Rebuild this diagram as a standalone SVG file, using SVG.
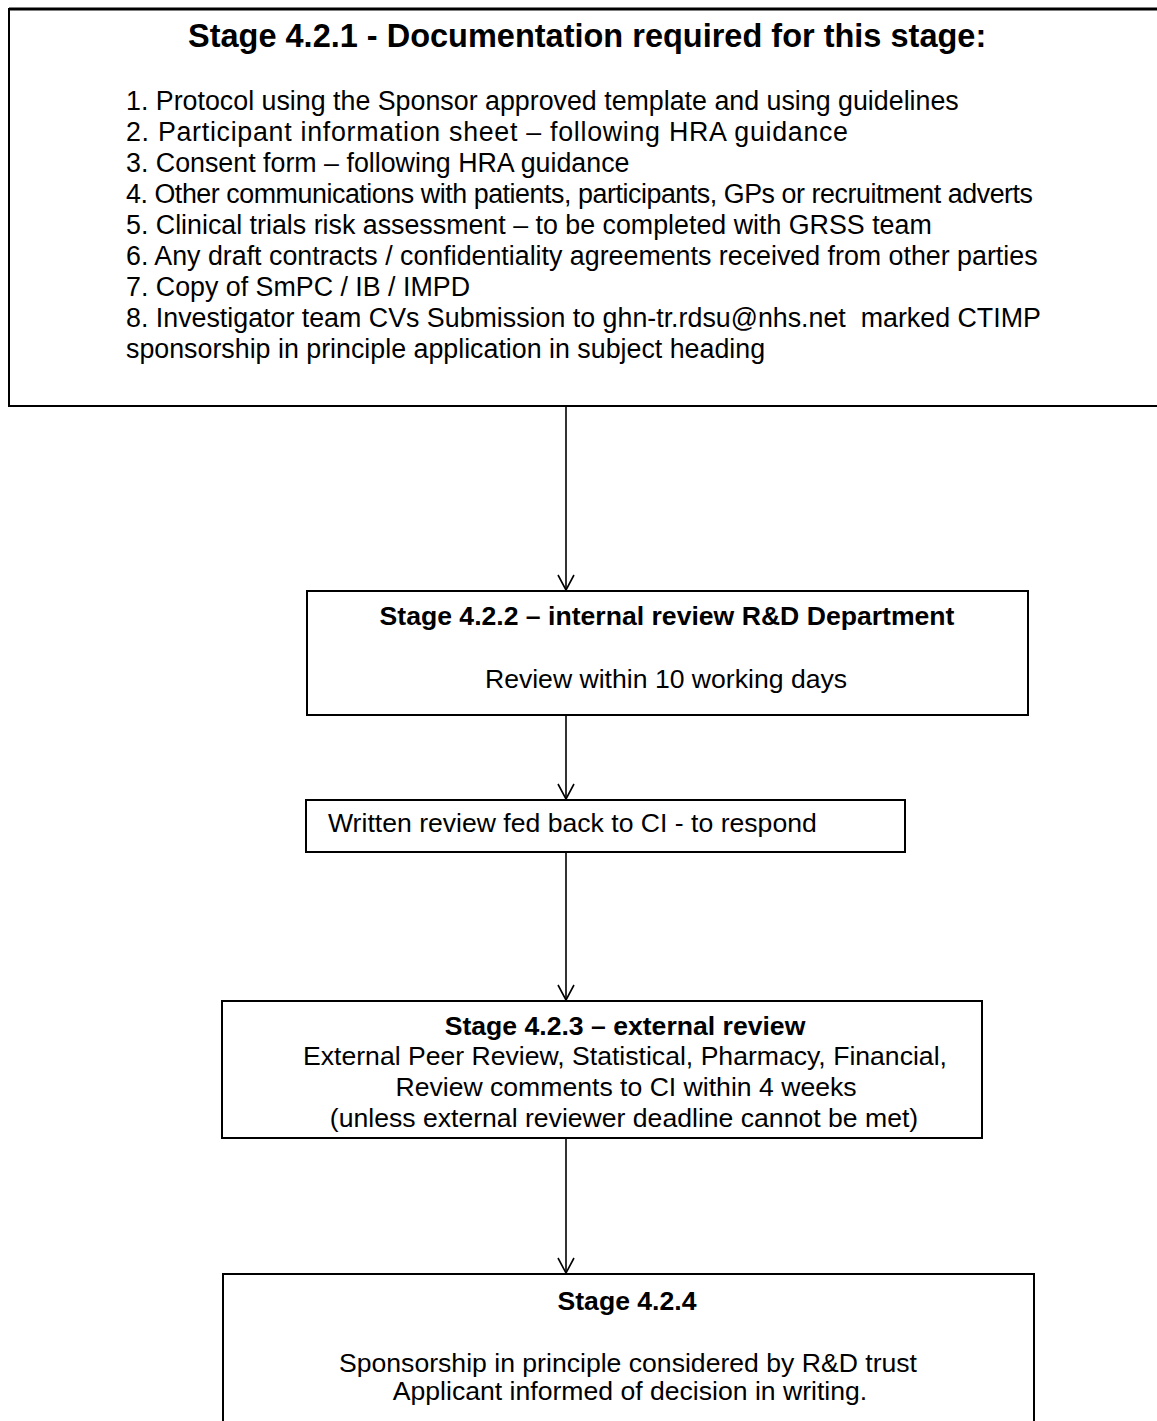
<svg xmlns="http://www.w3.org/2000/svg" width="1157" height="1421" viewBox="0 0 1157 1421">
<defs>
<style>
.box{fill:#fff;stroke:#000;stroke-width:2}
.t{font-family:"Liberation Sans",Arial,sans-serif;font-size:26.6px;fill:#000}
.li{font-size:26.8px}
.h1{font-size:32.5px}
.b{font-weight:bold}
.c{text-anchor:middle}
.conn line,.conn path{stroke:#000;stroke-width:1.6;fill:none}
</style>
</defs>
<rect width="1157" height="1421" fill="#fff"/>
<g id="stage421">
<path class="box" d="M1160,9 H9 V406 H1160"/>
<line x1="9" y1="9" x2="1160" y2="9" stroke="#000" stroke-width="3"/>
<text class="t b h1" x="188" y="47">Stage 4.2.1 - Documentation required for this stage:</text>
<text class="t li" x="126" y="110">1. Protocol using the Sponsor approved template and using guidelines</text>
<text class="t li" x="126" y="141" textLength="722" lengthAdjust="spacing">2. Participant information sheet – following HRA guidance</text>
<text class="t li" x="126" y="172">3. Consent form – following HRA guidance</text>
<text class="t li" x="126" y="203" textLength="907" lengthAdjust="spacing">4. Other communications with patients, participants, GPs or recruitment adverts</text>
<text class="t li" x="126" y="234">5. Clinical trials risk assessment – to be completed with GRSS team</text>
<text class="t li" x="126" y="265">6. Any draft contracts / confidentiality agreements received from other parties</text>
<text class="t li" x="126" y="296">7. Copy of SmPC / IB / IMPD</text>
<text class="t li" x="126" y="327" xml:space="preserve">8. Investigator team CVs Submission to ghn-tr.rdsu@nhs.net  marked CTIMP</text>
<text class="t li" x="126" y="358">sponsorship in principle application in subject heading</text>
</g>
<g id="stage422">
<rect class="box" x="307" y="591" width="721" height="124"/>
<text class="t b c" x="667" y="625">Stage 4.2.2 – internal review R&amp;D Department</text>
<text class="t c" x="666" y="688">Review within 10 working days</text>
</g>
<g id="written">
<rect class="box" x="306" y="800" width="599" height="52"/>
<text class="t" x="328" y="832">Written review fed back to CI - to respond</text>
</g>
<g id="stage423">
<rect class="box" x="222" y="1001" width="760" height="137"/>
<text class="t b c" x="625" y="1035">Stage 4.2.3 – external review</text>
<text class="t c" x="625" y="1065">External Peer Review, Statistical, Pharmacy, Financial,</text>
<text class="t c" x="626" y="1096">Review comments to CI within 4 weeks</text>
<text class="t c" x="624" y="1127">(unless external reviewer deadline cannot be met)</text>
</g>
<g id="stage424">
<path class="box" d="M223,1425 V1274 H1034 V1425"/>
<text class="t b c" x="627" y="1310">Stage 4.2.4</text>
<text class="t c" x="628" y="1372">Sponsorship in principle considered by R&amp;D trust</text>
<text class="t c" x="630" y="1400">Applicant informed of decision in writing.</text>
</g>
<g id="connectors" class="conn">
<line x1="566" y1="407" x2="566" y2="590"/>
<path d="M558,575 L566,590 L574,575"/>
<line x1="566" y1="716" x2="566" y2="799"/>
<path d="M558,784 L566,799 L574,784"/>
<line x1="566" y1="853" x2="566" y2="1000"/>
<path d="M558,985 L566,1000 L574,985"/>
<line x1="566" y1="1139" x2="566" y2="1273"/>
<path d="M558,1258 L566,1273 L574,1258"/>
</g>
</svg>
